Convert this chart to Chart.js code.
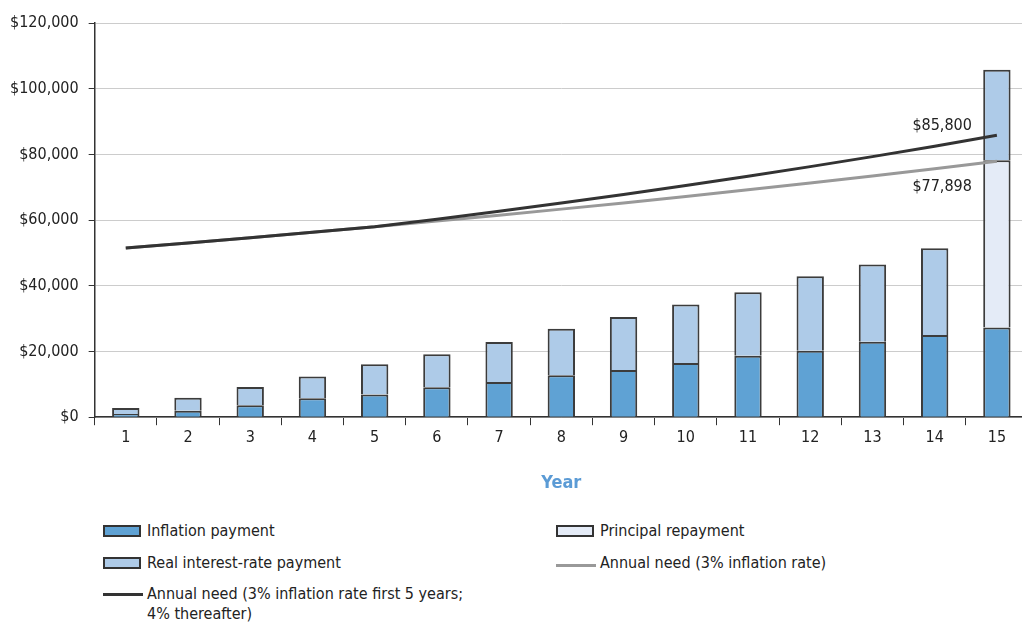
<!DOCTYPE html>
<html>
<head>
<meta charset="utf-8">
<script src="https://cdn.jsdelivr.net/npm/chart.js@4"></script>
<style>
  body { margin: 0; background: #fff; font-family: 'Liberation Sans Narrow', 'DejaVu Sans Condensed', sans-serif; overflow: hidden; }
  #wrap { position: relative; width: 1022px; height: 625px; overflow: hidden; }
  #chart { position: absolute; left: 0; top: 0; }
  .lg { position: absolute; font-size: 16px; color: #222; line-height: 20px; }
  .sw { position: absolute; width: 38px; height: 12px; border: 2px solid #333; box-sizing: border-box; }
  .ln { position: absolute; width: 40px; height: 3px; }
</style>
</head>
<body>
<div id="wrap">
  <canvas id="chart" width="1032" height="498"></canvas>

  <div class="sw" style="left:103px;top:525px;background:#5fa2d4"></div>
  <div class="lg" style="left:147px;top:521px">Inflation payment</div>
  <div class="sw" style="left:103px;top:557px;background:#aecbe8"></div>
  <div class="lg" style="left:147px;top:553px">Real interest-rate payment</div>
  <div class="ln" style="left:103px;top:593px;background:#333"></div>
  <div class="lg" style="left:147px;top:584px">Annual need (3% inflation rate first 5 years;<br>4% thereafter)</div>

  <div class="sw" style="left:556px;top:525px;background:#e4ebf7"></div>
  <div class="lg" style="left:600px;top:521px">Principal repayment</div>
  <div class="ln" style="left:556px;top:564px;background:#999"></div>
  <div class="lg" style="left:600px;top:553px">Annual need (3% inflation rate)</div>
</div>
<script>
const years = ['1','2','3','4','5','6','7','8','9','10','11','12','13','14','15'];
const inflationPayment = [1000, 2000, 3600, 5800, 6900, 9100, 10700, 12800, 14400, 16500, 18700, 20200, 23000, 25000, 27300];
const realInterest = [1800, 3900, 5600, 6600, 9200, 10100, 12200, 14100, 16100, 17800, 19300, 22700, 23500, 26400, 27600];
const principal = [0, 0, 0, 0, 0, 0, 0, 0, 0, 0, 0, 0, 0, 0, 50900];
const needMixed = [51500, 53045, 54636, 56275, 57964, 60283, 62694, 65202, 67810, 70523, 73343, 76277, 79328, 82501, 85800];
const needFlat = [51500, 53045, 54636, 56275, 57964, 59703, 61494, 63339, 65239, 67196, 69212, 71288, 73427, 75630, 77898];
const yTicks = [0, 20000, 40000, 60000, 80000, 100000, 120000];

const FONT = "'Liberation Sans Narrow', 'DejaVu Sans Condensed', sans-serif";
const money = v => '$' + v.toLocaleString('en-US');

// value labels at the end of the two lines
const endLabels = {
  id: 'endLabels',
  afterDatasetsDraw(chart) {
    const ctx = chart.ctx;
    const x = chart.scales.x.getPixelForValue(14);
    const y = chart.scales.y;
    ctx.save();
    ctx.font = '16px ' + FONT;
    ctx.fillStyle = '#222';
    ctx.textAlign = 'right';
    ctx.textBaseline = 'middle';
    ctx.fillText(money(needMixed[14]), x - 25, y.getPixelForValue(needMixed[14]) - 10);
    ctx.fillText(money(needFlat[14]), x - 25, y.getPixelForValue(needFlat[14]) + 26);
    ctx.restore();
  }
};

const bar = (label, data, color) => ({
  type: 'bar', label, data, backgroundColor: color,
  borderColor: '#3c3c3c', borderWidth: 2, stack: 'pay', order: 2,
  barPercentage: 0.88, categoryPercentage: 0.5
});

new Chart(document.getElementById('chart'), {
  data: {
    labels: years,
    datasets: [
      bar('Inflation payment', inflationPayment, '#5fa2d4'),
      bar('Principal repayment', principal, '#e4ebf7'),
      bar('Real interest-rate payment', realInterest, '#aecbe8'),
      { type: 'line', label: 'Annual need (3% inflation rate first 5 years; 4% thereafter)', data: needMixed,
        borderColor: '#333', borderWidth: 3, pointRadius: 0, stack: 'l1', order: 0, tension: 0 },
      { type: 'line', label: 'Annual need (3% inflation rate)', data: needFlat,
        borderColor: '#999', borderWidth: 3, pointRadius: 0, stack: 'l2', order: 1, tension: 0 }
    ]
  },
  options: {
    responsive: false,
    animation: false,
    layout: { padding: { left: 0, right: 4, top: 23, bottom: 0 } },
    plugins: { legend: { display: false }, tooltip: { enabled: false } },
    scales: {
      x: {
        stacked: true,
        offset: true,
        grid: { offset: true, drawOnChartArea: false, color: '#333', tickLength: 8 },
        border: { color: '#333', width: 1.5 },
        ticks: { color: '#222', font: { family: FONT, size: 16 }, padding: 3 },
        title: { display: true, text: 'Year', color: '#5b9bd5', font: { family: FONT, size: 18, weight: 'bold' }, padding: { top: 22 } }
      },
      y: {
        stacked: true,
        min: 0, max: 120000,
        afterBuildTicks: axis => { axis.ticks = yTicks.map(v => ({ value: v })); },
        grid: { color: '#ccc', tickColor: '#333', tickLength: 6 },
        border: { color: '#333', width: 1.5 },
        ticks: { color: '#222', font: { family: FONT, size: 16 }, padding: 10, callback: v => money(v) }
      }
    }
  },
  plugins: [endLabels]
});
</script>
</body>
</html>
